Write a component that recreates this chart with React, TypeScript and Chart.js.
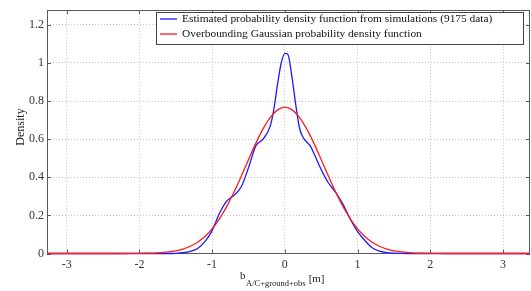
import React, { useEffect, useRef } from "react";
import { Chart, registerables } from "chart.js";

Chart.register(...registerables);

// ---- data ----
const xTicks = [-3, -2, -1, 0, 1, 2, 3];
const yTicks = [0, 0.2, 0.4, 0.6, 0.8, 1, 1.2];
const xMin = -3.27;
const xMax = 3.37;
const yMin = 0;
const yMax = 1.277;

const blueX = [-3.27, -2.0, -1.6, -1.5, -1.4, -1.3, -1.2, -1.1, -1.0, -0.9, -0.8, -0.7, -0.6, -0.5, -0.4, -0.3, -0.2, -0.15, -0.1, -0.05, 0.0, 0.04, 0.1, 0.15, 0.2, 0.25, 0.3, 0.35, 0.4, 0.5, 0.6, 0.7, 0.8, 0.9, 1.0, 1.1, 1.2, 1.3, 1.4, 1.5, 1.6, 1.7, 2.0, 3.37];
const blueY = [0, 0, 0, 0.001, 0.004, 0.011, 0.026, 0.062, 0.12, 0.21, 0.275, 0.305, 0.35, 0.45, 0.565, 0.6, 0.67, 0.76, 0.89, 1.0, 1.05, 1.046, 0.92, 0.78, 0.66, 0.61, 0.585, 0.565, 0.525, 0.44, 0.37, 0.32, 0.258, 0.18, 0.115, 0.068, 0.03, 0.012, 0.005, 0.002, 0.0005, 0, 0, 0];

const redX = [-3.27, -2.5, -2.2, -2.1, -2.0, -1.9, -1.8, -1.7, -1.6, -1.5, -1.4, -1.3, -1.2, -1.1, -1.0, -0.9, -0.8, -0.7, -0.6, -0.5, -0.4, -0.3, -0.2, -0.1, 0.0, 0.1, 0.2, 0.3, 0.4, 0.5, 0.6, 0.7, 0.8, 0.9, 1.0, 1.1, 1.2, 1.3, 1.4, 1.5, 1.6, 1.7, 1.8, 1.9, 2.0, 2.1, 2.2, 2.5, 3.37];
const redY = [0, 0, 0.0001, 0.0003, 0.0006, 0.0012, 0.0024, 0.0045, 0.008, 0.014, 0.023, 0.038, 0.059, 0.089, 0.129, 0.182, 0.246, 0.321, 0.405, 0.492, 0.578, 0.654, 0.715, 0.754, 0.768, 0.754, 0.715, 0.654, 0.578, 0.492, 0.405, 0.321, 0.246, 0.182, 0.129, 0.089, 0.059, 0.038, 0.023, 0.014, 0.008, 0.0045, 0.0024, 0.0012, 0.0006, 0.0003, 0.0001, 0, 0];

const legendLabels = [
  "Estimated probability density function from simulations (9175 data)",
  "Overbounding Gaussian probability density function",
];
const seriesColors = ["#1a1aff", "#ff1a1a"];
const yTitle = "Density";
const xTitleMain = "b";
const xTitleSub = "A/C+ground+obs";
const xTitleUnit = "[m]";

const SERIF = "'Liberation Serif', 'DejaVu Serif', serif";

const decorPlugin = {
  id: "decor",
  beforeDatasetsDraw(chart: any) {
    const { ctx, chartArea: a, scales } = chart;
    ctx.save();
    ctx.strokeStyle = "#5a5a5a";
    ctx.lineWidth = 1;
    ctx.strokeRect(Math.round(a.left) + 0.5, Math.round(a.top) + 0.5, Math.round(a.right - a.left) - 1, Math.round(a.bottom - a.top));
    // inward tick marks
    ctx.beginPath();
    for (const v of xTicks) {
      const px = Math.round(scales.x.getPixelForValue(v)) + 0.5;
      ctx.moveTo(px, a.bottom);
      ctx.lineTo(px, a.bottom - 4);
      ctx.moveTo(px, a.top);
      ctx.lineTo(px, a.top + 4);
    }
    for (const v of yTicks) {
      const py = Math.round(scales.y.getPixelForValue(v)) + 0.5;
      ctx.moveTo(a.left, py);
      ctx.lineTo(a.left + 4, py);
      ctx.moveTo(a.right, py);
      ctx.lineTo(a.right - 4, py);
    }
    ctx.stroke();
    ctx.restore();
  },
  afterDraw(chart: any) {
    const { ctx } = chart;
    ctx.save();
    // y title
    ctx.fillStyle = "#222";
    ctx.font = `12px ${SERIF}`;
    ctx.textAlign = "center";
    ctx.textBaseline = "middle";
    ctx.translate(21, 127);
    ctx.rotate(-Math.PI / 2);
    ctx.fillText(yTitle, 0, 0);
    ctx.restore();

    // x title with subscript
    ctx.save();
    ctx.fillStyle = "#222";
    ctx.textAlign = "left";
    ctx.textBaseline = "alphabetic";
    let x = 240;
    ctx.font = `11px ${SERIF}`;
    ctx.fillText(xTitleMain, x, 278.5);
    x += ctx.measureText(xTitleMain).width + 0.5;
    ctx.font = `8.5px ${SERIF}`;
    ctx.fillText(xTitleSub, x, 286);
    x += ctx.measureText(xTitleSub).width + 3;
    ctx.font = `11px ${SERIF}`;
    ctx.fillText(xTitleUnit, x, 281.5);
    ctx.restore();

    // legend
    ctx.save();
    const bx = 156.5, by = 12.5, bw = 367, bh = 32;
    ctx.fillStyle = "#fff";
    ctx.fillRect(bx, by, bw, bh);
    ctx.strokeStyle = "#444";
    ctx.lineWidth = 1;
    ctx.strokeRect(bx, by, bw, bh);
    ctx.font = `11.4px ${SERIF}`;
    ctx.textBaseline = "middle";
    ctx.textAlign = "left";
    const rows = [19, 34];
    legendLabels.forEach((lab, i) => {
      ctx.strokeStyle = seriesColors[i];
      ctx.lineWidth = 1.3;
      ctx.beginPath();
      ctx.moveTo(160, rows[i]);
      ctx.lineTo(177, rows[i]);
      ctx.stroke();
      ctx.fillStyle = "#111";
      ctx.fillText(lab, 182, rows[i] + 0.5);
    });
    ctx.restore();
  },
};

export default function App() {
  const ref = useRef<HTMLCanvasElement>(null);
  useEffect(() => {
    if (!ref.current) return;
    const chart = new Chart(ref.current, {
      type: "line",
      data: {
        datasets: [
          {
            label: legendLabels[1],
            data: redX.map((x, i) => ({ x, y: redY[i] })),
            borderColor: seriesColors[1],
            borderWidth: 1.3,
            pointRadius: 0,
            cubicInterpolationMode: "monotone",
            fill: false,
            clip: false as any,
            order: 0,
          },
          {
            label: legendLabels[0],
            data: blueX.map((x, i) => ({ x, y: blueY[i] })),
            borderColor: seriesColors[0],
            borderWidth: 1.3,
            pointRadius: 0,
            cubicInterpolationMode: "monotone",
            fill: false,
            clip: false as any,
            order: 1,
          },
        ],
      },
      options: {
        animation: false,
        responsive: false,
        maintainAspectRatio: false,
        layout: { padding: { top: 7, right: 1, left: 0, bottom: 0 } },
        plugins: { legend: { display: false }, tooltip: { enabled: false }, title: { display: false } },
        scales: {
          x: {
            type: "linear",
            min: xMin,
            max: xMax,
            afterBuildTicks: (s: any) => {
              s.ticks = xTicks.map((v) => ({ value: v }));
            },
            afterFit: (s: any) => {
              s.height = 37.5;
            },
            grid: { color: "#c4c4c4", lineWidth: 1, drawTicks: false },
            border: { display: false, dash: [1, 2] },
            ticks: {
              padding: 4,
              color: "#333",
              font: { family: SERIF, size: 12 },
              maxRotation: 0,
              callback: (v: any) => String(v),
            },
          },
          y: {
            type: "linear",
            min: yMin,
            max: yMax,
            afterBuildTicks: (s: any) => {
              s.ticks = yTicks.map((v) => ({ value: v }));
            },
            afterFit: (s: any) => {
              s.width = 47;
            },
            grid: { color: "#c4c4c4", lineWidth: 1, drawTicks: false },
            border: { display: false, dash: [1, 2] },
            ticks: {
              padding: 3,
              color: "#333",
              font: { family: SERIF, size: 12 },
              callback: (v: any) => String(Math.round(v * 10) / 10),
            },
          },
        },
      },
      plugins: [decorPlugin],
    });
    return () => chart.destroy();
  }, []);
  return (
    <div style={{ position: "fixed", left: 0, top: 0, width: 531, height: 291, background: "#fff" }}>
      <canvas ref={ref} width={531} height={291} style={{ width: 531, height: 291, display: "block" }} />
    </div>
  );
}
